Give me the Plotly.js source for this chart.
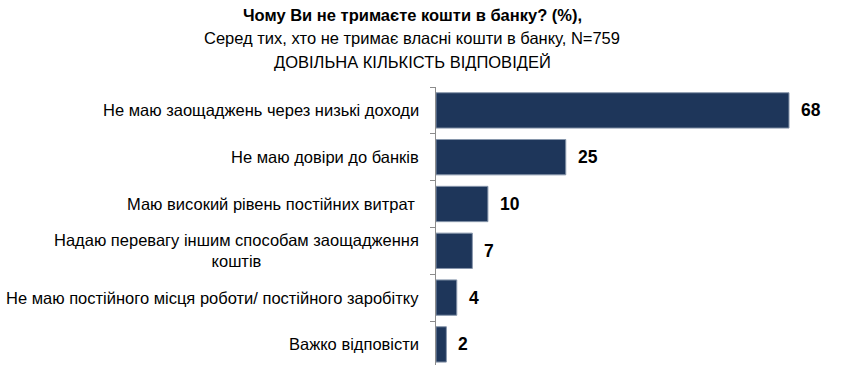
<!DOCTYPE html>
<html>
<head>
<meta charset="utf-8">
<script src="https://cdn.plot.ly/plotly-3.0.1.min.js"></script>
<style>html,body{margin:0;padding:0;background:#fff;}#chart{width:843px;height:365px;}</style>
</head>
<body>
<div id="chart"></div>
<script>
const categories = [
  "Не маю заощаджень через низькі доходи",
  "Не маю довіри до банків",
  "Маю високий рівень постійних витрат\u00a0",
  "Надаю перевагу іншим способам заощадження<br>коштів",
  "Не маю постійного місця роботи/ постійного заробітку",
  "Важко відповісти"
];
const values = [68, 25, 10, 7, 4, 2];
const titleLines = [
  "Чому Ви не тримаєте кошти в банку? (%),",
  "Серед тих, хто не тримає власні кошти в банку, N=759",
  "ДОВІЛЬНА КІЛЬКІСТЬ ВІДПОВІДЕЙ"
];

const FONT = "Liberation Sans, Arial, sans-serif";
const ids = categories.map((c, i) => "c" + i);

const trace = {
  type: "bar",
  orientation: "h",
  x: values,
  y: ids,
  width: 0.755,
  marker: { color: "#1e365a", line: { color: "#8796ab", width: 1 } },
  hoverinfo: "none"
};

const H = 365, T = 87, PH = H - T, L = 436, PW = 843 - L;
const titleY = [15, 38, 62];

const annotations = [];
categories.forEach((c, i) => {
  annotations.push({
    x: 0, xref: "paper", y: ids[i], yref: "y",
    xanchor: "right", yanchor: "middle", xshift: -15,
    text: c, align: "center", showarrow: false,
    font: { family: FONT, size: 16.5, color: "#000" }
  });
  annotations.push({
    x: values[i], xref: "x", y: ids[i], yref: "y",
    xanchor: "left", yanchor: "middle", xshift: 10,
    text: "<b>" + values[i] + "</b>", showarrow: false,
    font: { family: FONT, size: 17.5, color: "#000" }
  });
});
titleLines.forEach((t, i) => {
  annotations.push({
    x: (412 - L) / PW, xref: "paper", y: 1 + (T - titleY[i]) / PH, yref: "paper",
    text: i === 0 ? "<b>" + t + "</b>" : t, showarrow: false,
    xanchor: "center", yanchor: "middle",
    font: { family: FONT, size: 16.5, color: "#000" }
  });
});

const layout = {
  width: 843, height: 365,
  margin: { l: L, r: 0, t: T, b: 0, pad: 0 },
  paper_bgcolor: "#fff", plot_bgcolor: "#fff",
  showlegend: false,
  xaxis: { range: [0, 78.4], visible: false, fixedrange: true },
  yaxis: {
    type: "category", range: [5.44, -0.5],
    showticklabels: false, showgrid: false, zeroline: false,
    showline: true, linecolor: "#8c8c8c", linewidth: 1,
    ticks: "outside", tickson: "boundaries", ticklen: 5, tickcolor: "#8c8c8c",
    fixedrange: true
  },
  annotations: annotations
};

Plotly.newPlot("chart", [trace], layout, { displayModeBar: false, staticPlot: true });
</script>
</body>
</html>
